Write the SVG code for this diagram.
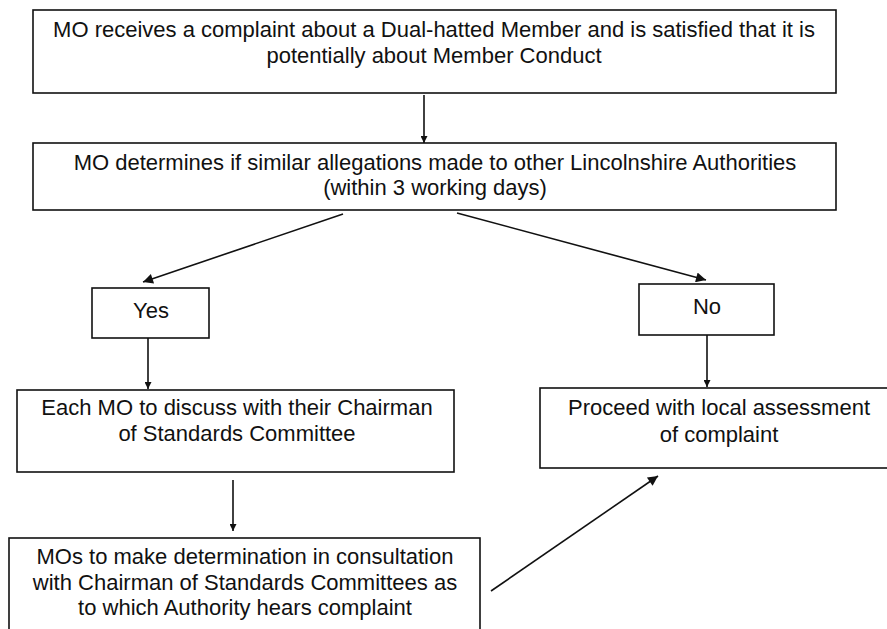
<svg xmlns="http://www.w3.org/2000/svg" width="887" height="629" viewBox="0 0 887 629">
<style>
.box{fill:#fff;stroke:#111;stroke-width:1.6}
.t{font-family:"Liberation Sans",Arial,sans-serif;font-size:22px;fill:#111;text-anchor:middle}
.c{stroke:#111;stroke-width:1.6;fill:none;marker-end:url(#ah)}
.d{marker-end:url(#ah2)}
</style>
<defs>
<marker id="ah" viewBox="0 0 10 10" refX="10" refY="5" markerWidth="7" markerHeight="7" markerUnits="userSpaceOnUse" orient="auto">
<path d="M0,0 L10,5 L0,10 z" fill="#111"/>
</marker>
<marker id="ah2" viewBox="0 0 10 10" refX="10" refY="5" markerWidth="12" markerHeight="10" markerUnits="userSpaceOnUse" orient="auto">
<path d="M0,0 L10,5 L0,10 z" fill="#111"/>
</marker>
</defs>
<rect width="887" height="629" fill="#fff"/>
<g id="n1">
<rect class="box" x="33" y="10" width="803" height="83"/>
<text class="t" x="434" y="37">MO receives a complaint about a Dual-hatted Member and is satisfied that it is</text>
<text class="t" x="434" y="63">potentially about Member Conduct</text>
</g>
<g id="n2">
<rect class="box" x="33" y="143" width="803" height="67"/>
<text class="t" x="435" y="170">MO determines if similar allegations made to other Lincolnshire Authorities</text>
<text class="t" x="435" y="195">(within 3 working days)</text>
</g>
<g id="yes">
<rect class="box" x="92" y="288" width="117" height="50"/>
<text class="t" x="151" y="318">Yes</text>
</g>
<g id="no">
<rect class="box" x="639" y="284" width="135" height="51"/>
<text class="t" x="707" y="314">No</text>
</g>
<g id="n3">
<rect class="box" x="17" y="390" width="437" height="82"/>
<text class="t" x="237" y="415">Each MO to discuss with their Chairman</text>
<text class="t" x="237" y="441">of Standards Committee</text>
</g>
<g id="n4">
<rect class="box" x="540" y="388" width="360" height="80"/>
<text class="t" x="719" y="415">Proceed with local assessment</text>
<text class="t" x="719" y="442">of complaint</text>
</g>
<g id="n5">
<rect class="box" x="9" y="538" width="471" height="100"/>
<text class="t" x="245" y="564">MOs to make determination in consultation</text>
<text class="t" x="245" y="590">with Chairman of Standards Committees as</text>
<text class="t" x="245" y="615">to which Authority hears complaint</text>
</g>
<g id="connectors">
<line class="c" x1="424" y1="95" x2="424" y2="143"/>
<line class="c d" x1="343" y1="214" x2="143" y2="282"/>
<line class="c d" x1="457" y1="213" x2="706" y2="280"/>
<line class="c" x1="148" y1="338" x2="148" y2="389"/>
<line class="c" x1="707" y1="335" x2="707" y2="387"/>
<line class="c" x1="233" y1="480" x2="233" y2="531"/>
<line class="c d" x1="491" y1="591" x2="658" y2="476"/>
</g>
</svg>
